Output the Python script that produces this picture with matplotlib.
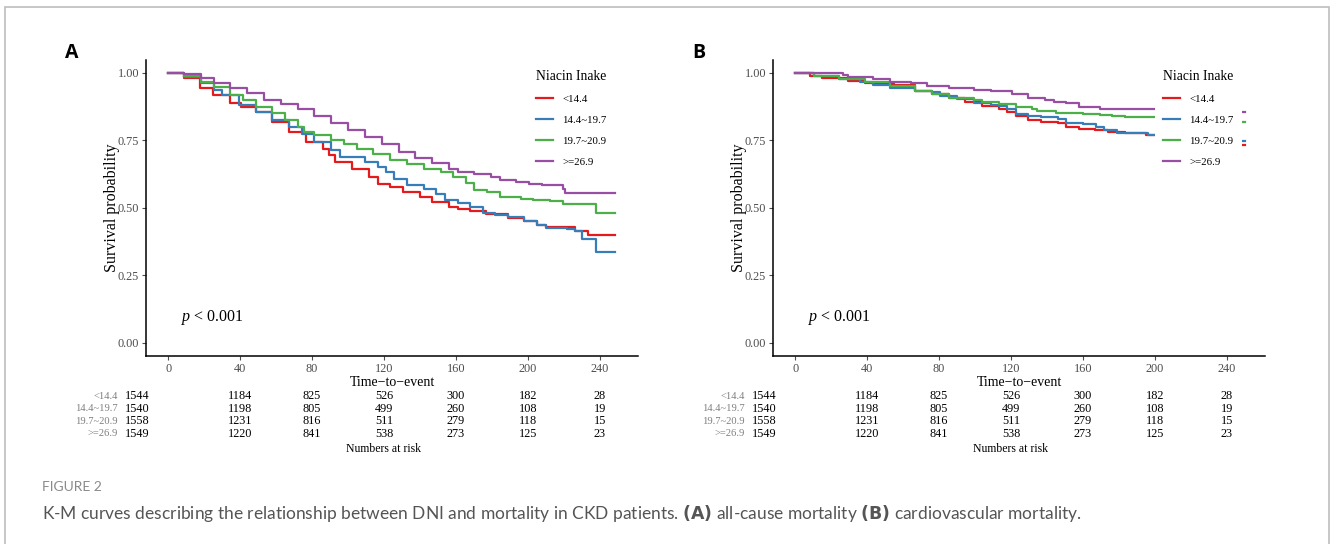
import matplotlib
matplotlib.use('Agg')
import matplotlib.pyplot as plt
from matplotlib.lines import Line2D
from matplotlib.patches import Rectangle

plt.rcParams['font.family'] = ['Liberation Serif', 'DejaVu Serif']
plt.rcParams['mathtext.fontset'] = 'custom'
plt.rcParams['mathtext.it'] = 'Liberation Serif:italic'
plt.rcParams['mathtext.rm'] = 'Liberation Serif'

groups = ['<14.4', '14.4~19.7', '19.7~20.9', '>=26.9']
colors = ['#E41A1C', '#377EB8', '#4DAF4A', '#984EA3']
risk_times = [0, 40, 80, 120, 160, 200, 240]

# panel A, all-cause mortality
a_red_t = [0, 8.9, 18, 25, 34.6, 40.5, 48.7, 58, 67.4, 76.7, 86, 89.6, 93, 102.4, 111.8, 116.5, 123.5,
           130.5, 140, 147, 156, 161, 168, 177, 189, 198, 205, 210, 226.4, 233.4, 248.6]
a_red_s = [1, .979, .942, .917, .886, .871, .855, .818, .781, .743, .719, .694, .669, .644, .613, .589, .576,
           .558, .539, .520, .502, .493, .489, .477, .462, .450, .434, .428, .415, .397, .397]
a_blue_t = [0, 8.9, 18.2, 25.3, 30, 39.3, 48.7, 58, 67.4, 74.4, 81.4, 90.8, 95.4, 109.5, 116.5, 121.2, 125.8,
            132.9, 142.2, 149.2, 153.9, 161, 168, 175, 182, 189, 198, 205, 210, 221.7, 226.4, 230, 238, 248.6]
a_blue_s = [1, .985, .960, .936, .917, .880, .855, .824, .799, .774, .743, .713, .688, .669, .651, .632, .607,
            .582, .570, .551, .527, .517, .502, .480, .471, .465, .450, .434, .425, .421, .415, .384, .335, .335]
a_green_t = [0, 8.9, 18.2, 25.3, 34.6, 41.6, 48.7, 58, 65, 72, 75.5, 81.4, 90.8, 97.8, 104.8, 114.1, 123.5,
             132.9, 142.2, 151.6, 158.6, 165.6, 170.3, 177.3, 184.3, 196, 203, 212.4, 219.4, 238, 248.6]
a_green_s = [1, .988, .967, .948, .917, .898, .874, .851, .824, .799, .781, .768, .750, .735, .719, .698, .678,
             .663, .644, .632, .613, .591, .566, .558, .539, .533, .527, .524, .512, .481, .481]
a_purple_t = [0, 8.9, 18.2, 25.3, 34.6, 44, 53.3, 62.7, 72, 81.4, 90.8, 100, 109.5, 118.8, 128.2, 137.5,
              146.9, 156.2, 161, 170.3, 179.6, 184.3, 193.7, 200.7, 207.7, 219.4, 220.6, 248.6]
a_purple_s = [1, .995, .979, .963, .942, .923, .898, .884, .864, .839, .812, .787, .760, .737, .706, .685,
              .665, .644, .632, .623, .613, .601, .595, .589, .582, .570, .554, .554]

# panel B, cardiovascular mortality
b_red_t = [0, 8.2, 15.2, 29.2, 38.6, 47.9, 54.9, 66.6, 76, 85.3, 94.7, 104, 113.3, 118, 122.7, 129.7, 136.7,
           146, 150.7, 157.7, 167, 174, 183.5, 195, 215, 250]
b_red_s = [1, .989, .979, .970, .962, .958, .954, .933, .921, .906, .890, .875, .865, .853, .840, .825, .818,
           .812, .800, .793, .788, .781, .778, .768, .731, .731]
b_blue_t = [0, 10.5, 24.5, 36.2, 43.2, 52.6, 66.6, 76, 80.6, 90, 99.3, 108.7, 113.3, 118, 122.7, 129.7, 136.7,
            146, 150.7, 160, 167.1, 171.8, 178.8, 188.1, 196.3, 215, 250]
b_blue_s = [1, .986, .976, .964, .954, .945, .933, .927, .915, .902, .887, .880, .875, .865, .846, .838, .834,
            .828, .813, .809, .800, .787, .778, .776, .770, .746, .746]
b_green_t = [0, 10.5, 24.5, 38.6, 52.6, 66.6, 76, 85.3, 99.3, 104, 113.3, 122.7, 132, 134.4, 144.9, 160,
             169.4, 176.4, 183.5, 210, 250]
b_green_s = [1, .989, .976, .964, .949, .933, .921, .908, .900, .890, .884, .874, .867, .859, .850, .846,
             .843, .838, .834, .817, .817]
b_purple_t = [0, 12.9, 26.9, 29.2, 43.2, 52.6, 64.3, 73.6, 85.3, 99.3, 108.7, 120.4, 129.7, 139, 143.7,
              150.7, 157.7, 169.4, 205, 250]
b_purple_s = [1, .998, .991, .983, .976, .967, .962, .949, .943, .937, .931, .921, .908, .900, .892,
              .887, .871, .867, .855, .855]

# numbers at risk (same table in both panels)
risk_red = [1544, 1184, 825, 526, 300, 182, 28]
risk_blue = [1540, 1198, 805, 499, 260, 108, 19]
risk_green = [1558, 1231, 816, 511, 279, 118, 15]
risk_purple = [1549, 1220, 841, 538, 273, 125, 23]

curves_a = [(a_red_t, a_red_s), (a_blue_t, a_blue_s), (a_green_t, a_green_s), (a_purple_t, a_purple_s)]
curves_b = [(b_red_t, b_red_s), (b_blue_t, b_blue_s), (b_green_t, b_green_s), (b_purple_t, b_purple_s)]
risk_rows = [risk_red, risk_blue, risk_green, risk_purple]

W, H = 1330, 544
fig = plt.figure(figsize=(W / 100, H / 100), dpi=100)

# outer frame of the figure box
fig.patches.append(Rectangle((5 / W, -0.05), 1324 / W, (537 / H) + 0.05, transform=fig.transFigure,
                             fill=False, edgecolor='#bdbdbd', linewidth=1.2))

grey = '#4D4D4D'


def draw_panel(left, curves, letter):
    ax = fig.add_axes([left / W, (H - 356) / H, 492 / W, 296 / H])
    for (t, s), c in zip(curves, colors):
        ax.step(t, s, where='post', color=c, lw=1.6)
    ax.set_xlim(-12.3, 261.3)
    ax.set_ylim(-0.05, 1.047)
    ax.set_xticks(risk_times)
    ax.set_yticks([0, 0.25, 0.5, 0.75, 1.0])
    ax.set_yticklabels(['0.00', '0.25', '0.50', '0.75', '1.00'])
    for sp in ['top', 'right']:
        ax.spines[sp].set_visible(False)
    for sp in ['left', 'bottom']:
        ax.spines[sp].set_linewidth(1.1)
    ax.tick_params(labelsize=8.8, colors=grey, length=3, width=0.8, pad=2)
    ax.set_xlabel('Time\u2212to\u2212event', fontsize=10, labelpad=1)
    ax.set_ylabel('Survival probability', fontsize=11.5, labelpad=-2)
    ax.text(7, 0.093, r'$p$ < 0.001', fontsize=11.5, va='center')

    handles = [Line2D([], [], color=c, lw=1.6) for c in colors]
    leg = ax.legend(handles, groups, title='Niacin Inake', loc='upper left',
                    bbox_to_anchor=(0.766, 1.012), fontsize=7.8, title_fontsize=9.8,
                    frameon=True, facecolor='white', edgecolor='none', framealpha=1,
                    handlelength=1.5, handletextpad=0.9, labelspacing=1.06, borderpad=0.75,
                    alignment='left', fancybox=False)
    leg.set_zorder(5)
    leg._legend_box.sep = 8

    fig.text((left - 74) / W, (H - 53) / H, letter, fontsize=14, fontweight='bold',
             family='Open Sans', ha='center', va='center')

    # numbers at risk table
    rax = fig.add_axes([left / W, (H - 440) / H, 492 / W, 50 / H])
    rax.set_xlim(-12.3, 261.3)
    rax.set_ylim(3.5, -0.5)
    rax.axis('off')
    for i, (g, row) in enumerate(zip(groups, risk_rows)):
        rax.text(-28, i, g, ha='right', va='center', fontsize=7.6, color='#7f7f7f')
        for j, (t, n) in enumerate(zip(risk_times, row)):
            # the first column sits to the left of the 0 tick in the original
            rax.text(t - 17 if j == 0 else t, i, str(n), ha='center', va='center', fontsize=8.8)
    rax.text(120, 4.25, 'Numbers at risk', ha='center', va='center', fontsize=8.5, clip_on=False)
    return ax


draw_panel(146, curves_a, 'A')
draw_panel(773, curves_b, 'B')

fig.text(42 / W, (H - 487) / H, 'FIGURE 2', fontsize=10, color='#8a8a8a', family='Lato',
         va='center', ha='left')
fig.text(42 / W, (H - 513) / H,
         'K-M curves describing the relationship between DNI and mortality in CKD patients. '
         r'$\bf{(A)}$ all-cause mortality $\bf{(B)}$ cardiovascular mortality.',
         fontsize=12.5, color='#555555', family='Lato', va='center', ha='left')

plt.savefig('out.png', dpi=100)
